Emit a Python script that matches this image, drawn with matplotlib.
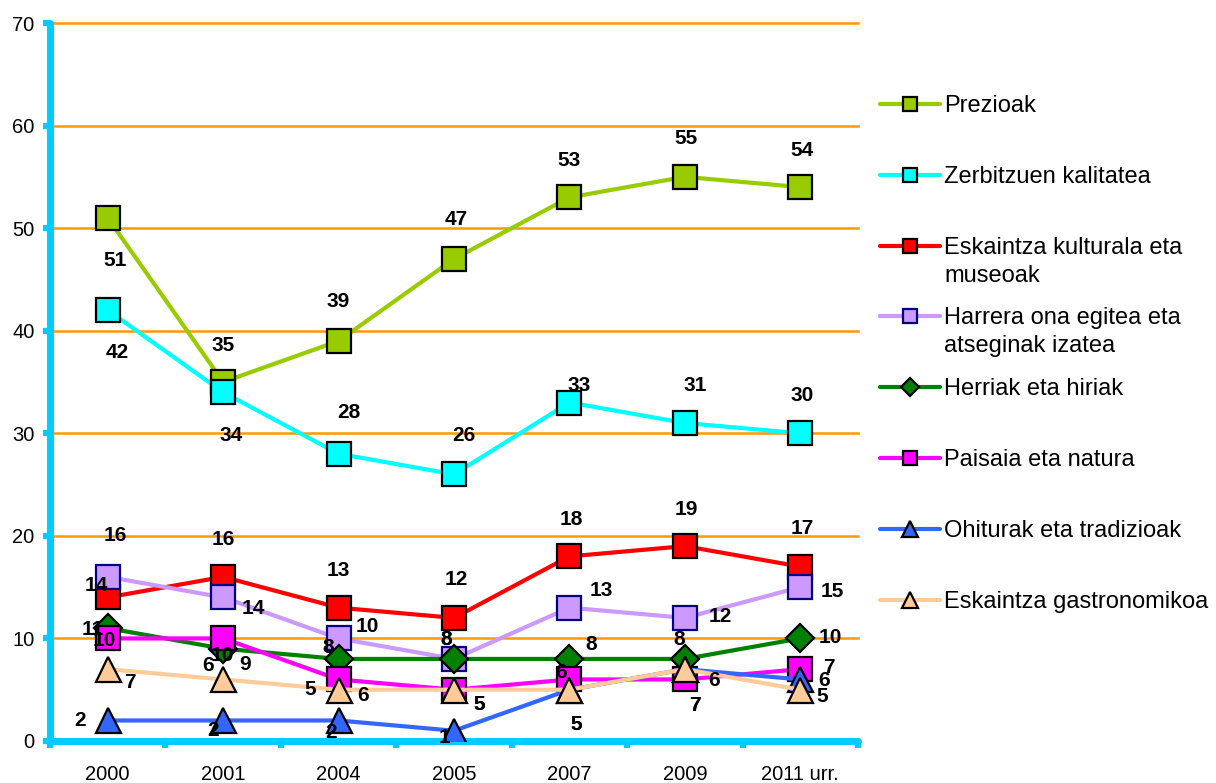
import matplotlib
matplotlib.use('Agg')
import matplotlib.pyplot as plt
from matplotlib.lines import Line2D

plt.rcParams['font.family'] = ['Liberation Sans', 'DejaVu Sans']

# data
years = ['2000', '2001', '2004', '2005', '2007', '2009', '2011 urr.']
names = ['Prezioak', 'Zerbitzuen kalitatea', 'Eskaintza kulturala eta\nmuseoak',
         'Harrera ona egitea eta\natseginak izatea', 'Herriak eta hiriak',
         'Paisaia eta natura', 'Ohiturak eta tradizioak', 'Eskaintza gastronomikoa']
prezioak = [51, 35, 39, 47, 53, 55, 54]
zerbitzuak = [42, 34, 28, 26, 33, 31, 30]
kultura = [14, 16, 13, 12, 18, 19, 17]
harrera = [16, 14, 10, 8, 13, 12, 15]
herriak = [11, 9, 8, 8, 8, 8, 10]
paisaia = [10, 10, 6, 5, 6, 6, 7]
ohiturak = [2, 2, 2, 1, 5, 7, 6]
gastronomia = [7, 6, 5, 5, 5, 7, 5]
values = [prezioak, zerbitzuak, kultura, harrera, herriak, paisaia, ohiturak, gastronomia]

# styles
line_colors = ['#99CC00', '#00FFFF', '#FF0000', '#CC99FF', '#008000', '#FF00FF', '#3366FF', '#FFCC99']
edge_colors = ['black', 'black', 'black', '#000080', 'black', 'black', 'black', 'black']
markers = ['s', 's', 's', 's', 'D', 's', '^', '^']
msizes = [17, 17, 17, 17, 14, 17, 18, 18]

# label offsets (pixels) for each point, placed like the original
offsets = [
    [(7, -43), (0, 37), (0, 39), (2, 39), (0, 37), (1, 38), (2, 37)],
    [(10, -42), (8, -43), (10, 41), (10, 39), (10, 17), (10, 38), (2, 38)],
    [(-11, 12), (0, 37), (0, 37), (2, 38), (2, 37), (1, 37), (2, 38)],
    [(8, 41), (30, -11), (29, 12), (-8, 19), (32, 17), (35, 1), (32, -4)],
    [(-15, -1), (22, -16), (-10, 11), (-8, 19), (22, 14), (-6, 19), (30, 1)],
    [(-3, -2), (-1, -17), (24, -16), (25, -15), (-8, 7), (29, -1), (29, 2)],
    [(-28, 0), (-10, -10), (-8, -12), (-10, -7), (7, -35), (10, -36), (24, -1)],
    [(22, -13), (-15, 14), (-28, 0), (25, -15), (7, -35), (10, -36), (22, -7)],
]
# labels drawn under the later markers
under = {(5, 4)}

W, H = 1216, 783
fig = plt.figure(figsize=(W / 100, H / 100), dpi=100)
ax = fig.add_axes([50 / W, 42 / H, 808 / W, 718 / H])

x = list(range(len(years)))
for i, vals in enumerate(values):
    ax.plot(x, vals, color=line_colors[i], lw=3, marker=markers[i], ms=msizes[i],
            mfc=line_colors[i], mec=edge_colors[i], mew=1.6, zorder=3 + i,
            solid_capstyle='round')
    for j, v in enumerate(vals):
        dx, dy = offsets[i][j]
        z = 3 + i + 0.5 if (i, j) in under else 20
        ax.annotate(str(v), (j, v), xytext=(dx, dy), textcoords='offset pixels',
                    ha='center', va='center', fontsize=15, fontweight='bold',
                    color='black', zorder=z)

ax.set_xlim(-0.5, 6.5)
ax.set_ylim(0, 70)
ax.set_yticks(range(0, 71, 10))
ax.set_xticks(x)
ax.set_xticklabels(years)
ax.set_xticks([k - 0.5 for k in range(len(years) + 1)], minor=True)

ax.yaxis.grid(True, color='#FF9900', lw=1.8)
ax.set_axisbelow(True)
for gl in ax.yaxis.get_gridlines():
    gl.set_clip_on(False)

for s in ['top', 'right']:
    ax.spines[s].set_visible(False)
for s in ['left', 'bottom']:
    ax.spines[s].set_color('#00CCFF')
    ax.spines[s].set_linewidth(5)
    ax.spines[s].set_capstyle('round')

ax.tick_params(axis='y', length=5, width=4.5, color='#00CCFF', labelsize=14.5, pad=6)
ax.tick_params(axis='x', which='major', length=0, labelsize=14.5, pad=17)
ax.tick_params(axis='x', which='minor', length=5, width=4.5, color='#00CCFF')

# legend drawn by hand to match the original spacing
for i, name in enumerate(names):
    yc = 1 - (104 + 70.8 * i) / H
    fig.add_artist(Line2D([880 / W, 940 / W], [yc, yc], transform=fig.transFigure,
                          color=line_colors[i], lw=3, solid_capstyle='round'))
    fig.add_artist(Line2D([910 / W], [yc], transform=fig.transFigure,
                          marker=markers[i], ms=msizes[i] * 0.62, mfc=line_colors[i],
                          mec=edge_colors[i], mew=1.6, lw=0))
    for k, part in enumerate(name.split('\n')):
        fig.text(944 / W, yc - (2 + 28 * k) / H, part, fontsize=17,
                 ha='left', va='center')

fig.savefig('out.png', dpi=100)
